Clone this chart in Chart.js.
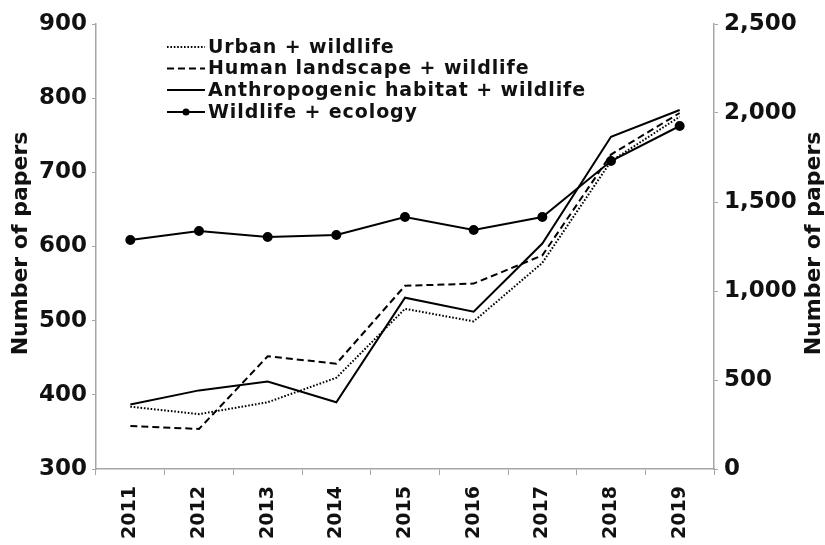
<!DOCTYPE html>
<html>
<head>
<meta charset="utf-8">
<script src="https://cdn.jsdelivr.net/npm/chart.js@4.4.1/dist/chart.umd.min.js"></script>
<style>
  html, body { margin: 0; padding: 0; background: #fff; }
  #wrap { width: 825px; height: 545px; position: relative; }
</style>
</head>
<body>
<div id="wrap"><canvas id="c"></canvas></div>
<script>
const years = ['2011', '2012', '2013', '2014', '2015', '2016', '2017', '2018', '2019'];
const urbanWildlife = [384, 374, 390, 423, 516, 499, 578, 715, 775];
const humanLandscapeWildlife = [358, 354, 452, 442, 547, 550, 588, 724, 780];
const anthropogenicWildlife = [387, 406, 418, 390, 531, 512, 604, 748, 784];
const wildlifeEcology = [1287, 1337, 1303, 1315, 1416, 1343, 1416, 1730, 1927];
const leftTicks = [300, 400, 500, 600, 700, 800, 900];
const rightTicks = [0, 500, 1000, 1500, 2000, 2500];
const seriesNames = ['Urban + wildlife', 'Human landscape + wildlife', 'Anthropogenic habitat + wildlife', 'Wildlife + ecology'];
const axisTitle = 'Number of papers';

const FONT = '"DejaVu Sans", "Liberation Sans", Arial, sans-serif';
const AXIS_COLOR = '#a6a6a6';
const TEXT_COLOR = '#111';

const legendPlugin = {
  id: 'customLegend',
  afterDraw(chart) {
    const ctx = chart.ctx;
    ctx.save();
    const x0 = 167, x1 = 205, tx = 208;
    const rowY = [47, 68.5, 90, 112];
    ctx.font = 'bold 19px ' + FONT;
    ctx.fillStyle = TEXT_COLOR;
    ctx.textBaseline = 'middle';
    ctx.textAlign = 'left';
    chart.data.datasets.forEach((ds, i) => {
      const y = rowY[i];
      ctx.save();
      ctx.strokeStyle = '#000';
      ctx.lineWidth = ds.borderWidth;
      ctx.setLineDash(ds.borderDash || []);
      ctx.beginPath();
      ctx.moveTo(x0, y);
      ctx.lineTo(x1, y);
      ctx.stroke();
      if (ds.pointRadius > 0) {
        ctx.setLineDash([]);
        ctx.fillStyle = '#000';
        ctx.beginPath();
        ctx.arc((x0 + x1) / 2, y, 3.5, 0, Math.PI * 2);
        ctx.fill();
      }
      ctx.restore();
      ctx.save();
      ctx.letterSpacing = '0.9px';
      ctx.fillText(ds.label, tx, y + 1);
      ctx.restore();
    });
    ctx.font = 'bold 22px ' + FONT;
    ctx.textAlign = 'center';
    ctx.textBaseline = 'middle';
    const midY = (chart.chartArea.top + chart.chartArea.bottom) / 2 - 3;
    ctx.save();
    ctx.translate(21, midY);
    ctx.rotate(-Math.PI / 2);
    ctx.fillText(axisTitle, 0, 0);
    ctx.restore();
    ctx.save();
    ctx.translate(814, midY);
    ctx.rotate(-Math.PI / 2);
    ctx.fillText(axisTitle, 0, 0);
    ctx.restore();
    ctx.restore();
  }
};

new Chart(document.getElementById('c'), {
  type: 'line',
  data: {
    labels: years,
    datasets: [
      { label: seriesNames[0], data: urbanWildlife, yAxisID: 'y', borderColor: '#000', borderWidth: 2, borderDash: [1.6, 1.8], pointRadius: 0, tension: 0, fill: false },
      { label: seriesNames[1], data: humanLandscapeWildlife, yAxisID: 'y', borderColor: '#000', borderWidth: 2, borderDash: [7, 4], pointRadius: 0, tension: 0, fill: false },
      { label: seriesNames[2], data: anthropogenicWildlife, yAxisID: 'y', borderColor: '#000', borderWidth: 2, pointRadius: 0, tension: 0, fill: false },
      { label: seriesNames[3], data: wildlifeEcology, yAxisID: 'y1', borderColor: '#000', backgroundColor: '#000', borderWidth: 2, pointRadius: 4, pointBackgroundColor: '#000', pointBorderColor: '#000', tension: 0, fill: false }
    ]
  },
  options: {
    responsive: true,
    maintainAspectRatio: false,
    animation: false,
    devicePixelRatio: 1,
    layout: { padding: { top: 24, left: 0, right: 0, bottom: 0 } },
    plugins: { legend: { display: false }, tooltip: { enabled: false }, title: { display: false } },
    scales: {
      x: {
        type: 'category',
        offset: true,
        grid: { display: true, drawOnChartArea: false, drawTicks: true, tickLength: 6, offset: true, color: AXIS_COLOR, lineWidth: 1 },
        border: { display: true, color: AXIS_COLOR, width: 1.5 },
        ticks: { color: TEXT_COLOR, font: { family: FONT, size: 19, weight: 'bold' }, minRotation: 90, maxRotation: 90, padding: 11, autoSkip: false },
        afterFit(s) { s.height = 76; }
      },
      y: {
        position: 'left',
        min: leftTicks[0],
        max: leftTicks[leftTicks.length - 1],
        afterBuildTicks(s) { s.ticks = leftTicks.map(v => ({ value: v })); },
        grid: { display: true, drawOnChartArea: false, drawTicks: true, tickLength: 4, color: AXIS_COLOR },
        border: { display: true, color: AXIS_COLOR, width: 1.5 },
        ticks: { color: TEXT_COLOR, font: { family: FONT, size: 23, weight: 'bold' }, padding: 5 },
        afterFit(s) { s.width = 96; }
      },
      y1: {
        position: 'right',
        min: rightTicks[0],
        max: rightTicks[rightTicks.length - 1],
        afterBuildTicks(s) { s.ticks = rightTicks.map(v => ({ value: v })); },
        grid: { display: true, drawOnChartArea: false, drawTicks: true, tickLength: 4, color: AXIS_COLOR },
        border: { display: true, color: AXIS_COLOR, width: 1.5 },
        ticks: { color: TEXT_COLOR, font: { family: FONT, size: 23, weight: 'bold' }, padding: 6,
          callback: v => v.toLocaleString('en-US') },
        afterFit(s) { s.width = 111; }
      }
    }
  },
  plugins: [legendPlugin]
});
</script>
</body>
</html>
